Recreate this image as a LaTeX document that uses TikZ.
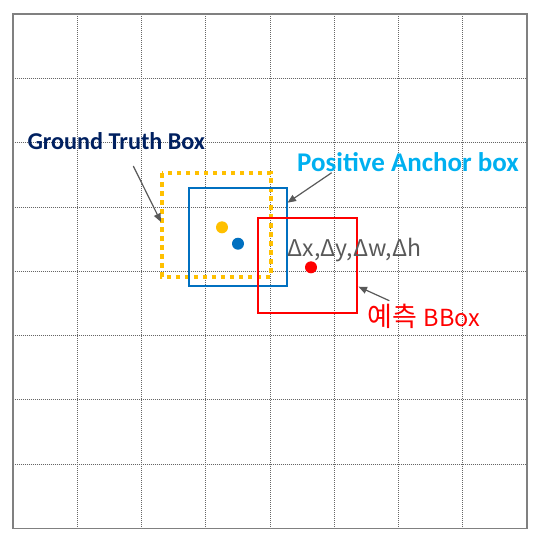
\documentclass[tikz,border=0pt]{standalone}
\usepackage{fontspec}
\setmainfont{Carlito}
\newfontfamily\krfont{Noto Sans CJK KR}
\usetikzlibrary{arrows.meta}
\definecolor{gtnavy}{RGB}{0,32,96}
\definecolor{anchorblue}{RGB}{0,112,192}
\definecolor{anchorcyan}{RGB}{0,176,240}
\definecolor{gtyellow}{RGB}{255,192,0}
\definecolor{predred}{RGB}{255,0,0}
\definecolor{textgray}{RGB}{89,89,89}
\definecolor{framegray}{RGB}{128,128,128}
\tikzset{
  gridline/.style={draw=black!60, line width=0.8pt, dash pattern=on 1pt off 1pt},
  pointer/.style={draw=textgray, line width=1.2pt, -{Triangle[length=8.5pt,width=7pt]}},
  label/.style={inner sep=0pt, anchor=base west}
}
\begin{document}
\begin{tikzpicture}[x=1pt, y=-1pt]
  \useasboundingbox (0,0) rectangle (541,541);
  % grid
  \foreach \i in {1,...,7} {
    \draw[gridline] ({12.7+64.3*\i},14) -- ({12.7+64.3*\i},528.5);
    \draw[gridline] (12.7,{14+64.3*\i}) -- (527.1,{14+64.3*\i});
  }
  \draw[framegray, line width=1.6pt] (12.7,14) rectangle (527.1,528.5);
  % boxes
  \draw[gtyellow, line width=4pt, dash pattern=on 4.5pt off 4.5pt] (162,173) rectangle (270.5,276.5);
  \draw[anchorblue, line width=2pt] (188.7,187.7) rectangle (286.7,285.7);
  \draw[predred, line width=2pt] (258,217.7) rectangle (357.3,312.7);
  \fill[gtyellow] (222,227.3) circle (6pt);
  \fill[anchorblue] (238,243.7) circle (6pt);
  \fill[predred] (311,267.3) circle (6pt);
  % labels
  \node[label, text=gtnavy, font=\fontsize{24.2}{26}\selectfont\bfseries] (gtlabel) at (27.3,149.3) {Ground Truth Box};
  \node[label, text=anchorcyan, font=\fontsize{27}{28}\selectfont\bfseries] (poslabel) at (297,171) {Positive Anchor box};
  \node[label, text=textgray, font=\krfont\fontsize{23}{26}\selectfont] (deltalabel) at (287.3,256.7) {Δx,Δy,Δw,Δh};
  \node[label, text=predred, font=\krfont\fontsize{23.5}{26}\selectfont] (predlabel) at (367.7,326.7) {{\fontsize{27}{30}\selectfont 예측 }BBox};
  % pointers
  \coordinate (gttail) at (133.3,166);
  \coordinate (gthead) at (161,222);
  \coordinate (postail) at (331.7,172.7);
  \coordinate (poshead) at (287.5,202.7);
  \coordinate (predtail) at (389.3,300.7);
  \coordinate (predhead) at (358.5,286.7);
  \draw[pointer] (gttail) -- (gthead);
  \draw[pointer] (postail) -- (poshead);
  \draw[pointer] (predtail) -- (predhead);
\end{tikzpicture}
\end{document}
